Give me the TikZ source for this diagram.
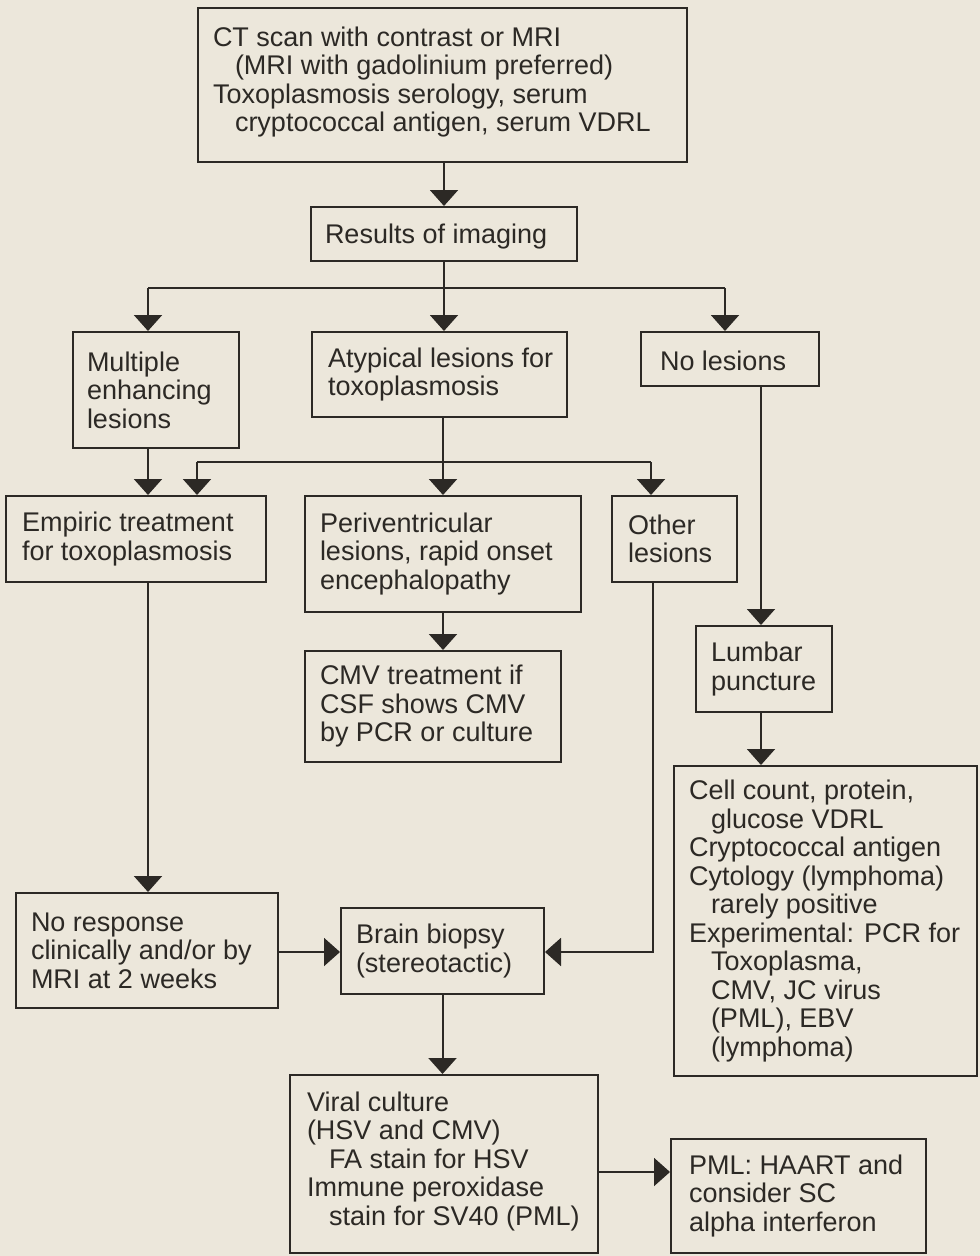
\documentclass[tikz,border=0pt]{standalone}
\usepackage{fontspec}
\setmainfont{Liberation Sans}
\usetikzlibrary{arrows.meta}

\definecolor{paper}{RGB}{236,231,219}
\definecolor{ink}{RGB}{44,41,37}

\newcommand\ind{\hspace*{22pt}}

\begin{document}
\begin{tikzpicture}[x=1pt,y=-1pt,
    line width=2pt,
    box/.style={draw=ink, line width=2pt, rectangle, inner sep=0pt},
    txt/.style={anchor=west, align=left, inner sep=0pt, text=ink,
                font=\fontsize{27}{28.5}\selectfont},
    link/.style={draw=ink, line width=2pt},
    arr/.style={link, -{Triangle[width=28pt,length=16pt]}}]

  % page
  \fill[paper] (0,0) rectangle (980,1256);
  \useasboundingbox (0,0) rectangle (980,1256);

  % boxes
  \node[box, minimum width=489, minimum height=154] (top)   at (442.5,85)   {};
  \node[box, minimum width=266, minimum height=54]  (res)   at (444,234)    {};
  \node[box, minimum width=166, minimum height=116] (mult)  at (156,390)    {};
  \node[box, minimum width=255, minimum height=85]  (atyp)  at (439.5,374.5){};
  \node[box, minimum width=178, minimum height=54]  (nol)   at (730,359)    {};
  \node[box, minimum width=260, minimum height=86]  (emp)   at (136,539)    {};
  \node[box, minimum width=276, minimum height=116] (peri)  at (443,554)    {};
  \node[box, minimum width=125, minimum height=86]  (other) at (674.5,539)  {};
  \node[box, minimum width=256, minimum height=111] (cmv)   at (433,706.5)  {};
  \node[box, minimum width=136, minimum height=86]  (lumb)  at (764,669)    {};
  \node[box, minimum width=303, minimum height=310] (cell)  at (825.5,921)  {};
  \node[box, minimum width=262, minimum height=115] (nores) at (147,950.5)  {};
  \node[box, minimum width=203, minimum height=86]  (brain) at (442.5,951)  {};
  \node[box, minimum width=308, minimum height=178] (viral) at (444,1164)   {};
  \node[box, minimum width=255, minimum height=114] (pml)   at (798.5,1196) {};

  % box texts
  \node[txt] (top-t) at ([xshift=15pt,yshift=3pt]top.west)
    {CT scan with contrast or MRI\\\ind(MRI with gadolinium preferred)\\
     Toxoplasmosis serology, serum\\\ind cryptococcal antigen, serum VDRL};
  \node[txt] (res-t) at ([xshift=14pt,yshift=-3pt]res.west) {Results of imaging};
  \node[txt] (mult-t) at ([xshift=14pt]mult.west) {Multiple\\enhancing\\lesions};
  \node[txt] (atyp-t) at ([xshift=16pt]atyp.west) {Atypical lesions for\\toxoplasmosis};
  \node[txt] (nol-t) at ([xshift=19pt,yshift=-2pt]nol.west) {No lesions};
  \node[txt] (emp-t) at ([xshift=16pt]emp.west) {Empiric treatment\\for toxoplasmosis};
  \node[txt] (peri-t) at ([xshift=15pt]peri.west) {Periventricular\\lesions, rapid onset\\encephalopathy};
  \node[txt] (other-t) at ([xshift=16pt]other.west) {Other\\lesions};
  \node[txt] (cmv-t) at ([xshift=15pt]cmv.west) {CMV treatment if\\CSF shows CMV\\by PCR or culture};
  \node[txt] (lumb-t) at ([xshift=15pt]lumb.west) {Lumbar\\puncture};
  \node[txt] (cell-t) at ([xshift=15pt]cell.west)
    {Cell count, protein,\\\ind glucose VDRL\\Cryptococcal antigen\\
     Cytology (lymphoma)\\\ind rarely positive\\Experimental: PCR for\\
     \ind Toxoplasma,\\\ind CMV, JC virus\\\ind (PML), EBV\\\ind (lymphoma)};
  \node[txt] (nores-t) at ([xshift=15pt]nores.west) {No response\\clinically and/or by\\MRI at 2 weeks};
  \node[txt] (brain-t) at ([xshift=15pt]brain.west) {Brain biopsy\\(stereotactic)};
  \node[txt] (viral-t) at ([xshift=17pt,yshift=3pt]viral.west)
    {Viral culture\\(HSV and CMV)\\\ind FA stain for HSV\\Immune peroxidase\\\ind stain for SV40 (PML)};
  \node[txt] (pml-t) at ([xshift=18pt]pml.west) {PML: HAART and\\consider SC\\alpha interferon};

  % junction points of the connectors
  \coordinate (b1) at (148,288);
  \coordinate (b3) at (725,288);
  \coordinate (c1) at (197,462);
  \coordinate (c3) at (651,462);
  \coordinate (lx) at (761,0);
  \coordinate (d)  at (653,952);
  \coordinate (f)  at (0,1172);

  % connectors
  \draw[arr] (res.north |- top.south) -- (res.north);
  \draw[link] (res.south) -- (res.south |- b1);
  \draw[link] (b1) -- (b3);
  \draw[arr] (b1) -- (b1 |- mult.north);
  \draw[arr] (res.south |- b1) -- (res.south |- atyp.north);
  \draw[arr] (b3) -- (b3 |- nol.north);

  \draw[arr] (b1 |- mult.south) -- (b1 |- emp.north);
  \draw[arr] (peri.north |- atyp.south) -- (peri.north);
  \draw[link] (c1) -- (c3);
  \draw[arr] (c1) -- (c1 |- emp.north);
  \draw[arr] (c3) -- (c3 |- other.north);

  \draw[arr] (peri.south) -- (peri.south |- cmv.north);
  \draw[arr] (lx |- nol.south) -- (lx |- lumb.north);
  \draw[arr] (lx |- lumb.south) -- (lx |- cell.north);

  \draw[arr] (b1 |- emp.south) -- (b1 |- nores.north);
  \draw[arr] (nores.east |- d) -- (brain.west |- d);
  \draw[arr] (d |- other.south) -- (d) -- (brain.east |- d);
  \draw[arr] (brain.south) -- (brain.south |- viral.north);
  \draw[arr] (viral.east |- f) -- (pml.west |- f);
\end{tikzpicture}
\end{document}
